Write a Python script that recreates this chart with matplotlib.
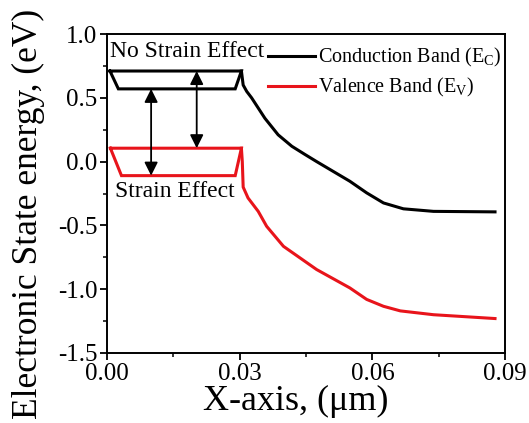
import matplotlib
matplotlib.use("Agg")
import matplotlib.pyplot as plt
from matplotlib.ticker import MultipleLocator, FormatStrFormatter

plt.rcParams["font.family"] = ["Liberation Serif", "DejaVu Serif"]
plt.rcParams["mathtext.fontset"] = "custom"
plt.rcParams["mathtext.rm"] = "Liberation Serif"
plt.rcParams["mathtext.it"] = "Liberation Serif:italic"

# Band edge curves beyond the strained region (um, eV)
xc = [0.0304, 0.0308, 0.0316, 0.0327, 0.0357, 0.0387, 0.0418, 0.0448, 0.0474,
      0.0549, 0.0587, 0.0625, 0.0670, 0.0738, 0.0877]
ec = [0.71, 0.60, 0.55, 0.50, 0.34, 0.21, 0.12, 0.055, 0.0,
      -0.154, -0.245, -0.324, -0.37, -0.39, -0.394]
xv = [0.0304, 0.0306, 0.0308, 0.0319, 0.0342, 0.0361, 0.0399, 0.0474, 0.0549,
      0.0587, 0.0625, 0.0663, 0.0738, 0.0877]
ev = [0.105, 0.0, -0.2, -0.285, -0.39, -0.507, -0.664, -0.846, -0.99,
      -1.08, -1.134, -1.17, -1.2, -1.23]

# Strained region outlines (no strain / strain levels)
xc_box = [0.0007, 0.0304, 0.0290, 0.0026, 0.0007]
ec_box = [0.71, 0.71, 0.57, 0.57, 0.71]
xv_box = [0.0008, 0.0304, 0.0290, 0.0033, 0.0008]
ev_box = [0.105, 0.105, -0.11, -0.11, 0.105]

# Double arrows (x, y_start, y_end)
arrows = [(0.0100, 0.57, -0.11), (0.0203, 0.71, 0.105)]

fig = plt.figure(figsize=(5.29, 4.23), dpi=100)
ax = fig.add_axes([0.202, 0.1655, 0.753, 0.7541])

ax.plot(xc, ec, color="black", lw=2.2, label=r"Conduction Band $\mathregular{(E_C)}$")
ax.plot(xv, ev, color="#e8141b", lw=2.2, label=r"Valence Band $\mathregular{(E_V)}$")
ax.plot(xc_box, ec_box, color="black", lw=2.2, solid_joinstyle="miter")
ax.plot(xv_box, ev_box, color="#e8141b", lw=2.2, solid_joinstyle="miter")

for x, y0, y1 in arrows:
    ax.annotate("", xy=(x, y1), xytext=(x, y0),
                arrowprops=dict(arrowstyle="<|-|>", color="black", lw=1.3,
                                mutation_scale=20, shrinkA=0, shrinkB=0))

ax.text(0.0007, 0.823, "No Strain Effect", fontsize=17, va="baseline", ha="left")
ax.text(0.0018, -0.275, "Strain Effect", fontsize=17, va="baseline", ha="left")

ax.set_xlim(0, 0.09)
ax.set_ylim(-1.5, 1.0)
ax.xaxis.set_major_locator(MultipleLocator(0.03))
ax.xaxis.set_minor_locator(MultipleLocator(0.015))
ax.yaxis.set_major_locator(MultipleLocator(0.5))
ax.yaxis.set_minor_locator(MultipleLocator(0.25))
ax.xaxis.set_major_formatter(FormatStrFormatter("%.2f"))
ax.yaxis.set_major_formatter(FormatStrFormatter("%.1f"))
ax.tick_params(which="major", direction="out", length=5, width=1.3, labelsize=18, pad=2)
ax.tick_params(which="minor", direction="out", length=3, width=1.1)
for s in ax.spines.values():
    s.set_linewidth(1.4)

ax.set_xlabel("X-axis, (μm)", fontsize=26, labelpad=0)
ax.xaxis.set_label_coords(0.475, -0.1)
ax.set_ylabel("Electronic State energy, (eV)", fontsize=25.5)
ax.yaxis.set_label_coords(-0.155, 0.436)

ax.legend(loc="upper left", bbox_to_anchor=(0.375, 1.0), frameon=False, fontsize=14.5,
          handlelength=2.3, handletextpad=0.15, labelspacing=0.35, borderaxespad=0.2)

fig.savefig("out.png", dpi=100)
